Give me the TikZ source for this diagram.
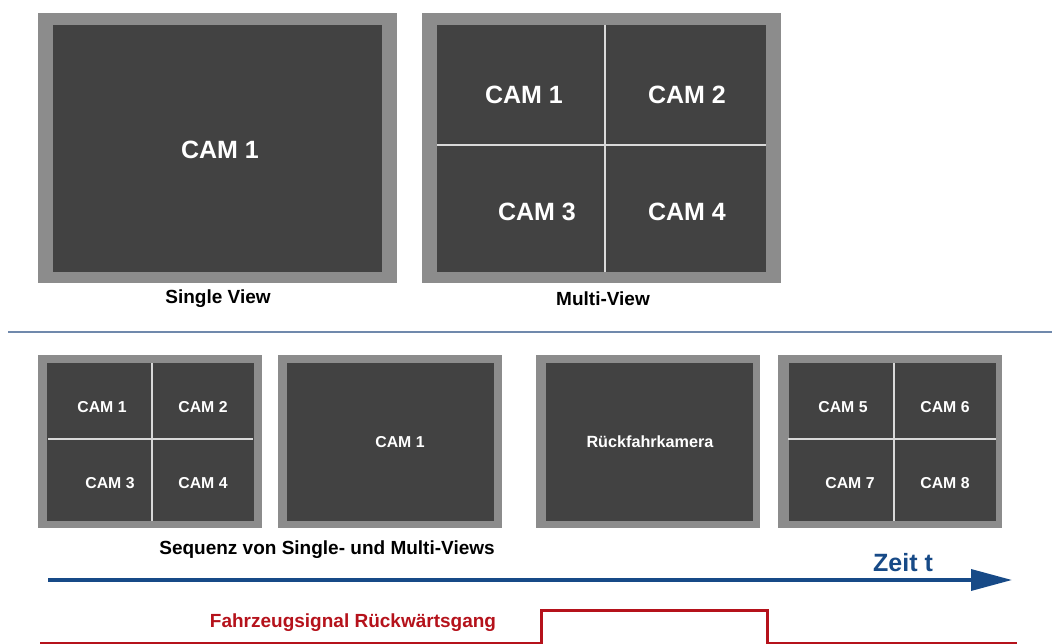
\documentclass[tikz,border=0pt]{standalone}
\usepackage{fontspec}
\setmainfont{Liberation Sans}
\usetikzlibrary{arrows.meta}
\definecolor{framegray}{HTML}{8C8C8C}
\definecolor{screengray}{HTML}{424242}
\definecolor{divgray}{HTML}{D8D8D8}
\definecolor{sepblue}{HTML}{7089AC}
\definecolor{timeblue}{HTML}{174A87}
\definecolor{sigred}{HTML}{B5121B}
\begin{document}
\begin{tikzpicture}[x=1pt,y=-1pt,
  frame/.style={fill=framegray,draw=none,inner sep=0pt},
  screen/.style={fill=screengray,draw=none,inner sep=0pt},
  bigframe/.style={frame,minimum width=359pt,minimum height=270pt},
  bigscreen/.style={screen,minimum width=329pt,minimum height=247pt},
  smallframe/.style={frame,minimum width=224pt,minimum height=173pt},
  smallscreen/.style={screen,minimum width=207pt,minimum height=158pt},
  camlarge/.style={text=white,font=\bfseries\fontsize{25}{30}\selectfont,inner sep=0pt},
  camsmall/.style={text=white,font=\bfseries\fontsize{15.8}{19}\selectfont,inner sep=0pt},
  caption/.style={text=black,font=\bfseries\fontsize{19}{23}\selectfont,inner sep=0pt},
  divider/.style={draw=divgray,line width=1.2pt},
]
\useasboundingbox (0,0) rectangle (1052,644);
% --- top row ---
\node[bigframe] (sf) at (217.5,148) {};
\node[bigscreen] (ss) at (217.5,148.5) {};
\node[camlarge] (s1) at (220,150) {CAM 1};
\node[caption] (scap) at (218,299) {Single View};

\node[bigframe] (mf) at (601,148) {};
\node[bigscreen] (ms) at (601.5,148.5) {};
\coordinate (mvt) at (605,25); \coordinate (mvb) at (605,272);
\coordinate (mhl) at (437,145); \coordinate (mhr) at (766,145);
\draw[divider] (mvt) -- (mvb);
\draw[divider] (mhl) -- (mhr);
\node[camlarge] (m1) at (524,95) {CAM 1};
\node[camlarge] (m2) at (687,95) {CAM 2};
\node[camlarge] (m3) at (537,212) {CAM 3};
\node[camlarge] (m4) at (687,212) {CAM 4};
\node[caption] (mcap) at (603,299) {Multi-View};

% --- separator ---
\coordinate (sepl) at (8,332); \coordinate (sepr) at (1052,332);
\draw[draw=sepblue,line width=2pt] (sepl) -- (sepr);

% --- bottom row ---
\node[smallframe] (af) at (149.5,441.5) {};
\node[smallscreen] (as) at (150.5,442) {};
\coordinate (avt) at (152,363); \coordinate (avb) at (152,521);
\coordinate (ahl) at (48,439); \coordinate (ahr) at (253,439);
\draw[divider] (avt) -- (avb);
\draw[divider] (ahl) -- (ahr);
\node[camsmall] (a1) at (102,407) {CAM 1};
\node[camsmall] (a2) at (203,407) {CAM 2};
\node[camsmall] (a3) at (110,483) {CAM 3};
\node[camsmall] (a4) at (203,483) {CAM 4};

\node[smallframe] (bf) at (389.5,441.5) {};
\node[smallscreen] (bs) at (390.5,442) {};
\node[camsmall] (b1) at (400,442) {CAM 1};

\node[smallframe] (cf) at (648,441.5) {};
\node[smallscreen] (cs) at (649,442) {};
\node[camsmall,font=\bfseries\fontsize{16.2}{19}\selectfont] (c1) at (650,442) {Rückfahrkamera};

\node[smallframe] (df) at (890,441.5) {};
\node[smallscreen] (ds) at (892,442) {};
\coordinate (dvt) at (894,363); \coordinate (dvb) at (894,521);
\coordinate (dhl) at (788,439); \coordinate (dhr) at (996,439);
\draw[divider] (dvt) -- (dvb);
\draw[divider] (dhl) -- (dhr);
\node[camsmall] (d5) at (843,407) {CAM 5};
\node[camsmall] (d6) at (945,407) {CAM 6};
\node[camsmall] (d7) at (850,483) {CAM 7};
\node[camsmall] (d8) at (945,483) {CAM 8};

\node[caption] (seqcap) at (327,550) {Sequenz von Single- und Multi-Views};

% --- time arrow ---
\coordinate (ts) at (48,580); \coordinate (te) at (1012,580);
\draw[draw=timeblue,line width=3.5pt,-{Triangle[length=41pt,width=21pt]}] (ts) -- (te);
\node[text=timeblue,font=\bfseries\fontsize{25}{30}\selectfont,inner sep=0pt] (zeit) at (903,563) {Zeit t};

% --- signal ---
\coordinate (r0) at (40,643); \coordinate (r1) at (541,643);
\coordinate (r2) at (541,610); \coordinate (r3) at (767,610);
\coordinate (r4) at (767,643); \coordinate (r5) at (1017,643);
\draw[draw=sigred,line width=3pt,line join=miter] (r0) -- (r1) -- (r2) -- (r3) -- (r4) -- (r5);
\node[text=sigred,font=\bfseries\fontsize{19}{23}\selectfont,inner sep=0pt] (sig) at (353,623) {Fahrzeugsignal Rückwärtsgang};
\end{tikzpicture}
\end{document}
